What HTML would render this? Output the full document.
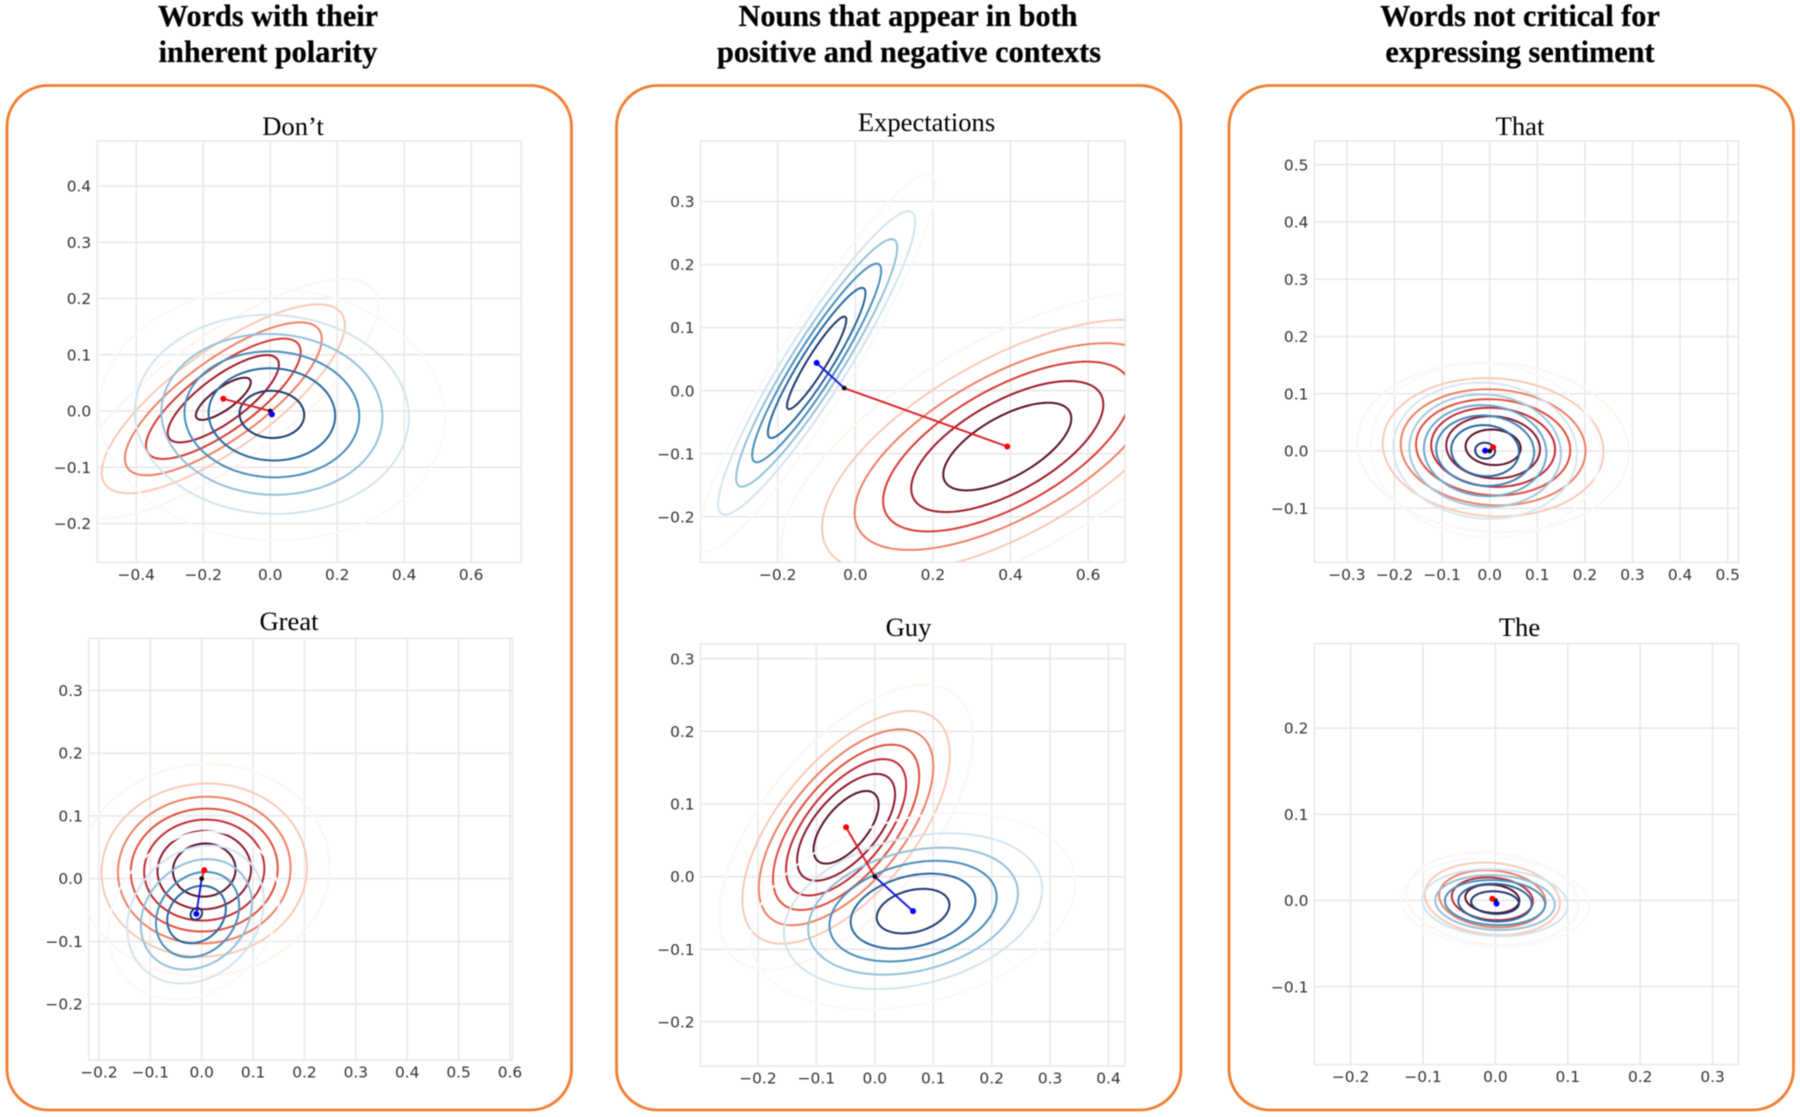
<!DOCTYPE html>
<html lang="en">
<head>
<meta charset="utf-8">
<title>Word embedding sentiment contours</title>
<style>
html,body{margin:0;padding:0;background:#fff;width:1800px;height:1117px;overflow:hidden}
svg{display:block;filter:blur(.45px)}
.hd{font-family:"Liberation Serif",serif;font-weight:700;font-size:30.25px;fill:#000;stroke:#000;stroke-width:.25px;text-anchor:middle}
.sub{font-family:"Liberation Serif",serif;font-size:26.6px;fill:#000;text-anchor:middle}
.tk{font-family:"DejaVu Sans",sans-serif;font-size:15.4px;fill:#333}
</style>
</head>
<body>
<svg id="fig" xmlns="http://www.w3.org/2000/svg" width="1800" height="1117" viewBox="0 0 1800 1117">
  <rect width="1800" height="1117" fill="#fff"/>
  <g>
    <text class="hd" x="268" y="26">Words with their</text>
    <text class="hd" x="268" y="62">inherent polarity</text>
    <text class="hd" x="908" y="26">Nouns that appear in both</text>
    <text class="hd" x="909" y="62">positive and negative contexts</text>
    <text class="hd" x="1520" y="26">Words not critical for</text>
    <text class="hd" x="1520" y="62">expressing sentiment</text>
  </g>
  <g fill="none" stroke="#f27d30" stroke-width="2.8">
    <rect x="7" y="85.5" width="564.5" height="1024.5" rx="41" ry="41"/>
    <rect x="616.5" y="85.5" width="564.5" height="1024.5" rx="41" ry="41"/>
    <rect x="1229" y="85.5" width="564.5" height="1024.5" rx="41" ry="41"/>
  </g>
  <g>
    <text class="sub" x="293" y="135">Don’t</text>
    <text class="sub" x="289" y="630">Great</text>
    <text class="sub" x="926.5" y="131">Expectations</text>
    <text class="sub" x="908.5" y="636">Guy</text>
    <text class="sub" x="1520" y="135">That</text>
    <text class="sub" x="1519.5" y="636">The</text>
  </g>
</svg>
<script>
// ---------- Don't ----------
const dontXTicks=[-0.4,-0.2,0,0.2,0.4,0.6];
const dontYTicks=[-0.2,-0.1,0,0.1,0.2,0.3,0.4];
const dontRedMean=[-0.14,0.0217];
const dontRedHalfX=[0.082,0.166,0.231,0.294,0.363,0.463];
const dontRedHalfY=[0.0375,0.0776,0.107,0.136,0.168,0.213];
const dontRedRho=[0.78];
const dontBlueMean=[0.005,-0.006];
const dontBlueHalfX=[0.0966,0.189,0.261,0.33,0.409,0.517];
const dontBlueHalfY=[0.042,0.082,0.112,0.143,0.177,0.224];
const dontBlueRho=[-0.03];
// ---------- Great ----------
const greatXTicks=[-0.2,-0.1,0,0.1,0.2,0.3,0.4,0.5,0.6];
const greatYTicks=[-0.2,-0.1,0,0.1,0.2,0.3];
const greatRedMean=[0.005,0.0136];
const greatRedHalfX=[0.061,0.091,0.117,0.143,0.168,0.2,0.244];
const greatRedHalfY=[0.0423,0.0625,0.0805,0.098,0.117,0.138,0.169];
const greatRedRho=[0.03];
const greatBlueMean=[-0.0104,-0.0562];
const greatBlueHalfX=[0.0112,0.057,0.081,0.108,0.133,0.166];
const greatBlueHalfY=[0.0093,0.0458,0.068,0.088,0.11,0.134];
const greatBlueCenterX=[-0.0104,-0.01,-0.008,-0.0104,-0.012,-0.0156];
const greatBlueCenterY=[-0.0562,-0.0573,-0.0573,-0.057,-0.0573,-0.059];
const greatBlueRho=[0.2];
// ---------- Expectations ----------
const expectXTicks=[-0.2,0,0.2,0.4,0.6];
const expectYTicks=[-0.2,-0.1,0,0.1,0.2,0.3];
const expectOrigin=[-0.0286,0.0041];
const expectRedMean=[0.3916,-0.0886];
const expectRedHalfX=[0.165,0.2476,0.32,0.3936,0.4774,0.583];
const expectRedHalfY=[0.0695,0.1039,0.1347,0.164,0.2013,0.2459];
const expectRedRho=[0.64];
const expectBlueMean=[-0.0996,0.044];
const expectBlueHalfX=[0.0764,0.1258,0.1662,0.2076,0.254,0.306];
const expectBlueHalfY=[0.0734,0.1191,0.1576,0.1963,0.2406,0.2993];
const expectBlueRho=[0.93];
// ---------- Guy ----------
const guyXTicks=[-0.2,-0.1,0,0.1,0.2,0.3,0.4];
const guyYTicks=[-0.2,-0.1,0,0.1,0.2,0.3];
const guyRedMean=[-0.0491,0.0679];
const guyRedHalfX=[0.0557,0.0838,0.1028,0.1251,0.1493,0.1775,0.2168];
const guyRedHalfY=[0.05,0.0736,0.0939,0.1139,0.135,0.1604,0.1962];
const guyRedRho=[0.62];
const guyBlueMean=[0.0655,-0.0476];
const guyBlueHalfX=[0.0622,0.1068,0.1431,0.1795,0.2211,0.2777];
const guyBlueHalfY=[0.0307,0.0517,0.0693,0.0875,0.1073,0.1351];
const guyBlueRho=[0.28];
// ---------- That ----------
const thatXTicks=[-0.3,-0.2,-0.1,0,0.1,0.2,0.3,0.4,0.5];
const thatYTicks=[-0.1,0,0.1,0.2,0.3,0.4,0.5];
const thatRedMean=[0.0072,0.0065];
const thatRedHalfX=[0.0579,0.0985,0.1302,0.162,0.1942,0.232,0.2854];
const thatRedHalfY=[0.031,0.0543,0.0691,0.084,0.1014,0.1208,0.148];
const thatRedRho=[-0.06];
const thatBlueMean=[-0.0096,0.0006];
const thatBlueHalfX=[0.0209,0.0712,0.1029,0.1286,0.1592,0.193,0.241];
const thatBlueHalfY=[0.0139,0.0446,0.0614,0.0795,0.0982,0.1189,0.152];
const thatBlueRho=[-0.05];
// ---------- The ----------
const theXTicks=[-0.2,-0.1,0,0.1,0.2,0.3];
const theYTicks=[-0.1,0,0.1,0.2];
const theRedMean=[-0.0042,0.002];
const theRedHalfX=[0.0373,0.056,0.0735,0.0933,0.119];
const theRedHalfY=[0.0165,0.0248,0.0332,0.0421,0.0536];
const theRedRho=[-0.12];
const theBlueMean=[0.0016,-0.0036];
const theBlueHalfX=[0.033,0.0507,0.0692,0.0825,0.1004,0.13];
const theBlueHalfY=[0.0131,0.0219,0.0262,0.0318,0.0389,0.0516];
const theBlueCenterX=[-0.0005,-0.0005,-0.0005,-0.0005,-0.0005,-0.0005];
const theBlueCenterY=[-0.0024,-0.0024,-0.0024,-0.0024,-0.0024,-0.0024];
const theBlueRho=[-0.08];
// ---------- shared colour ramps (inner to outer) ----------
const redRamp5=['#5a1228','#c22b35','#ee8166','#f9cab7','#fef5f0'];
const redRamp6=['#5a1228','#a01b2d','#d63c36','#ee8166','#f9cab7','#fef5f0'];
const redRamp7=['#5a1228','#8c1a30','#c22b35','#e0503d','#ee8166','#f9cab7','#fef5f0'];
const blueRamp6=['#1d3a6e','#27689f','#4a8fbc','#93c1da','#d3e4ef','#f6fafc'];
const blueRamp7=['#1d3a6e','#27689f','#3f84b6','#6ea9cb','#a3cade','#d8e7f1','#f6fafc'];

const NS='http://www.w3.org/2000/svg';
const fig=document.getElementById('fig');
function mk(tag,attrs,parent){
  const el=document.createElementNS(NS,tag);
  for(const k in attrs)el.setAttribute(k,attrs[k]);
  parent.appendChild(el);
  return el;
}
function fmt(v){return (v<0?'\u2212':'')+Math.abs(v).toFixed(1);}
function rampFor(kind,n){
  if(kind==='red')return n===5?redRamp5:(n===6?redRamp6:redRamp7);
  return n===7?blueRamp7:blueRamp6;
}

function drawContours(g,sx,sy,name,kind,mean,hx,hy,rho,cxs,cys){
  const n=hx.length, ramp=rampFor(kind,n);
  for(let i=n-1;i>=0;i--){
    const cx=cxs?cxs[i]:mean[0], cy=cys?cys[i]:mean[1];
    const r=rho[0], q=Math.sqrt(1-r*r);
    let d='';
    for(let k=0;k<=96;k++){
      const t=k/96*2*Math.PI;
      const px=sx(cx+hx[i]*Math.cos(t));
      const py=sy(cy+hy[i]*(r*Math.cos(t)+q*Math.sin(t)));
      d+=(k?'L':'M')+px.toFixed(2)+' '+py.toFixed(2);
    }
    const p=mk('path',{d:d+'Z',fill:'none',stroke:ramp[i],'stroke-width':2},g);
    
    
  }
}

function drawChart(c){
  const sx=v=>c.left+(v-c.xlim[0])/(c.xlim[1]-c.xlim[0])*(c.right-c.left);
  const sy=v=>c.bottom-(v-c.ylim[0])/(c.ylim[1]-c.ylim[0])*(c.bottom-c.top);
  const g=mk('g',{},fig);
  
  
  const clip=mk('clipPath',{id:'clip-'+c.id},g);
  mk('rect',{x:c.left,y:c.top,width:c.right-c.left,height:c.bottom-c.top},clip);
  const box=mk('rect',{x:c.left,y:c.top,width:c.right-c.left,height:c.bottom-c.top,fill:'#fff',stroke:'#e9e9ec','stroke-width':1.6},g);
  
  
  c.xTicks.forEach(v=>{
    const x=sx(v);
    const line=mk('line',{x1:x,x2:x,y1:c.top,y2:c.bottom,stroke:'#e7e7eb','stroke-width':1.5},g);
    
    
    const t=mk('text',{x:x,y:c.bottom+17.5,'text-anchor':'middle','class':'tk'},g);
    
    
    t.textContent=fmt(v);
  });
  c.yTicks.forEach(v=>{
    const y=sy(v);
    const line=mk('line',{x1:c.left,x2:c.right,y1:y,y2:y,stroke:'#e7e7eb','stroke-width':1.5},g);
    
    
    const t=mk('text',{x:c.left-6,y:y+5.6,'text-anchor':'end','class':'tk'},g);
    
    
    t.textContent=fmt(v);
  });
  const plot=mk('g',{'clip-path':'url(#clip-'+c.id+')'},g);
  
  
  drawContours(plot,sx,sy,c.id+'-red','red',c.redMean,c.redHx,c.redHy,c.redRho);
  drawContours(plot,sx,sy,c.id+'-blue','blue',c.blueMean,c.blueHx,c.blueHy,c.blueRho,c.blueCx,c.blueCy);
  const o=c.origin||[0,0];
  const redLine=mk('line',{x1:sx(o[0]),y1:sy(o[1]),x2:sx(c.redMean[0]),y2:sy(c.redMean[1]),stroke:'#dc1a20','stroke-width':1.9},plot);
  
  
  const blueLine=mk('line',{x1:sx(o[0]),y1:sy(o[1]),x2:sx(c.blueMean[0]),y2:sy(c.blueMean[1]),stroke:'#1414e0','stroke-width':1.9},plot);
  
  
  const dotO=mk('circle',{cx:sx(o[0]),cy:sy(o[1]),r:2.4,fill:'#111'},plot);
  
  
  const dotR=mk('circle',{cx:sx(c.redMean[0]),cy:sy(c.redMean[1]),r:3,fill:'#f00'},plot);
  
  
  const dotB=mk('circle',{cx:sx(c.blueMean[0]),cy:sy(c.blueMean[1]),r:3,fill:'#00f'},plot);
  
  
}

drawChart({id:'dont',left:97.2,right:521.2,top:141,bottom:562.3,xlim:[-0.5166,0.7495],ylim:[-0.269,0.48],
  xTicks:dontXTicks,yTicks:dontYTicks,redMean:dontRedMean,redHx:dontRedHalfX,redHy:dontRedHalfY,redRho:dontRedRho,
  blueMean:dontBlueMean,blueHx:dontBlueHalfX,blueHy:dontBlueHalfY,blueRho:dontBlueRho});
drawChart({id:'great',left:88.8,right:512.4,top:638.2,bottom:1060.1,xlim:[-0.2197,0.6047],ylim:[-0.2893,0.3832],
  xTicks:greatXTicks,yTicks:greatYTicks,redMean:greatRedMean,redHx:greatRedHalfX,redHy:greatRedHalfY,redRho:greatRedRho,
  blueMean:greatBlueMean,blueHx:greatBlueHalfX,blueHy:greatBlueHalfY,blueRho:greatBlueRho,blueCx:greatBlueCenterX,blueCy:greatBlueCenterY});
drawChart({id:'expectations',left:700.6,right:1125,top:141,bottom:562.3,xlim:[-0.3987,0.695],ylim:[-0.2722,0.396],
  xTicks:expectXTicks,yTicks:expectYTicks,origin:expectOrigin,redMean:expectRedMean,redHx:expectRedHalfX,redHy:expectRedHalfY,redRho:expectRedRho,
  blueMean:expectBlueMean,blueHx:expectBlueHalfX,blueHy:expectBlueHalfY,blueRho:expectBlueRho});
drawChart({id:'guy',left:700.6,right:1125,top:644,bottom:1066,xlim:[-0.2981,0.4282],ylim:[-0.2609,0.3204],
  xTicks:guyXTicks,yTicks:guyYTicks,redMean:guyRedMean,redHx:guyRedHalfX,redHy:guyRedHalfY,redRho:guyRedRho,
  blueMean:guyBlueMean,blueHx:guyBlueHalfX,blueHy:guyBlueHalfY,blueRho:guyBlueRho});
drawChart({id:'that',left:1314.4,right:1738.5,top:141,bottom:562.3,xlim:[-0.3683,0.5227],ylim:[-0.1943,0.5413],
  xTicks:thatXTicks,yTicks:thatYTicks,redMean:thatRedMean,redHx:thatRedHalfX,redHy:thatRedHalfY,redRho:thatRedRho,
  blueMean:thatBlueMean,blueHx:thatBlueHalfX,blueHy:thatBlueHalfY,blueRho:thatBlueRho});
drawChart({id:'the',left:1314.4,right:1738.5,top:643.4,bottom:1064.6,xlim:[-0.25,0.3358],ylim:[-0.1904,0.2983],
  xTicks:theXTicks,yTicks:theYTicks,redMean:theRedMean,redHx:theRedHalfX,redHy:theRedHalfY,redRho:theRedRho,
  blueMean:theBlueMean,blueHx:theBlueHalfX,blueHy:theBlueHalfY,blueRho:theBlueRho,blueCx:theBlueCenterX,blueCy:theBlueCenterY});
</script>
</body>
</html>
